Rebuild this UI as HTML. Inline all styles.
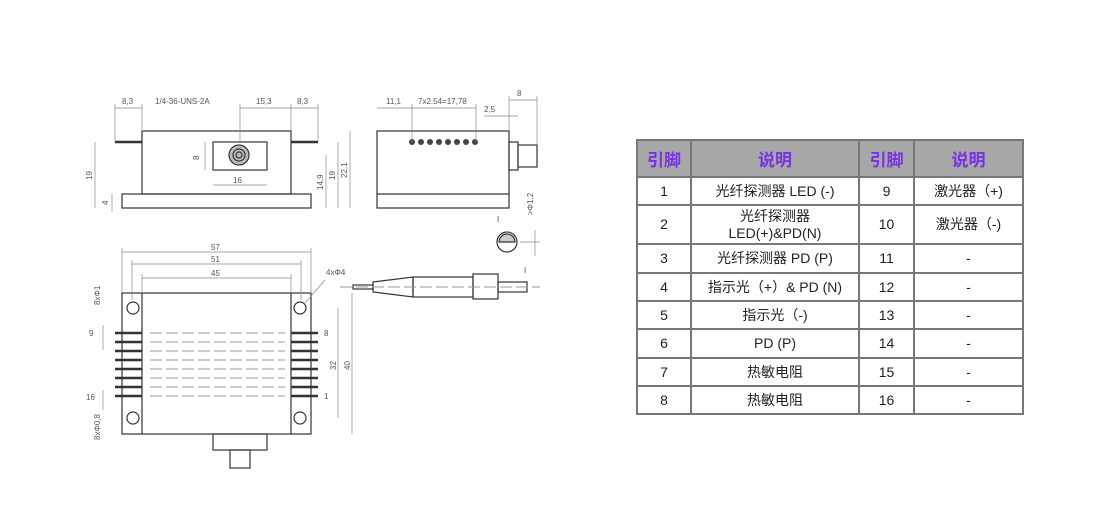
<!DOCTYPE html>
<html><head><meta charset="utf-8"><style>
body{margin:0;width:1112px;height:521px;background:#fff;position:relative;overflow:hidden;font-family:"Liberation Sans","Noto Sans CJK SC",sans-serif}
table{position:absolute;left:636px;top:139px;border-collapse:collapse;width:388px;font-size:14px;color:#222}
td{border:2px solid #777;text-align:center;padding:0;line-height:17px}
th{border:2px solid #777;background:#a7a7a7;color:#7a30e6;font-size:17px;font-weight:bold;height:33px}
svg{position:absolute;left:0;top:0}
</style></head><body>
<svg width="630" height="521" viewBox="0 0 630 521" font-family="Liberation Sans, sans-serif" font-size="8" fill="#555">
<g stroke="#333" stroke-width="1.2" fill="none">
<!-- front view -->
<rect x="142" y="131" width="149" height="63"/>
<rect x="122" y="194" width="189" height="14"/>
<rect x="213" y="142" width="54" height="28"/>
<circle cx="239" cy="155" r="10" fill="#bbb"/><circle cx="239" cy="155" r="6"/><circle cx="239" cy="155" r="3"/>
<line x1="115" y1="142" x2="142" y2="142" stroke-width="2.5"/>
<line x1="291" y1="142" x2="318" y2="142" stroke-width="2.5"/>
<!-- side view -->
<rect x="377" y="131" width="132" height="77"/>
<line x1="377" y1="194" x2="509" y2="194"/>
<rect x="509" y="142" width="9" height="28"/>
<rect x="518" y="145" width="19" height="22"/>
<!-- top view -->
<rect x="122" y="293" width="189" height="141"/>
<line x1="142" y1="293" x2="142" y2="434"/><line x1="291" y1="293" x2="291" y2="434"/>
<circle cx="133" cy="308" r="6"/><circle cx="300" cy="308" r="6"/><circle cx="133" cy="418" r="6"/><circle cx="300" cy="418" r="6"/>
<rect x="213" y="434" width="54" height="16"/>
<rect x="230" y="450" width="20" height="18"/>
<!-- fiber -->
<rect x="353" y="285" width="20" height="4"/>
<path d="M373 282 L413 277 L413 297 L373 292 Z"/>
<rect x="413" y="277" width="60" height="20"/>
<rect x="473" y="274" width="25" height="25"/>
<rect x="498" y="282" width="29" height="10"/>
<circle cx="507" cy="242" r="10"/>
<path d="M499 242 A8 8 0 0 1 515 242 Z" fill="#ccc"/>
</g>
<g fill="#444">
<circle cx="412" cy="142" r="3"/><circle cx="421" cy="142" r="3"/><circle cx="430" cy="142" r="3"/><circle cx="439" cy="142" r="3"/><circle cx="448" cy="142" r="3"/><circle cx="457" cy="142" r="3"/><circle cx="466" cy="142" r="3"/><circle cx="475" cy="142" r="3"/>
</g>
<g stroke="#333" stroke-width="2.5">
<line x1="115" y1="333" x2="142" y2="333"/><line x1="115" y1="342" x2="142" y2="342"/><line x1="115" y1="351" x2="142" y2="351"/><line x1="115" y1="360" x2="142" y2="360"/><line x1="115" y1="369" x2="142" y2="369"/><line x1="115" y1="378" x2="142" y2="378"/><line x1="115" y1="387" x2="142" y2="387"/><line x1="115" y1="396" x2="142" y2="396"/>
<line x1="291" y1="333" x2="318" y2="333"/><line x1="291" y1="342" x2="318" y2="342"/><line x1="291" y1="351" x2="318" y2="351"/><line x1="291" y1="360" x2="318" y2="360"/><line x1="291" y1="369" x2="318" y2="369"/><line x1="291" y1="378" x2="318" y2="378"/><line x1="291" y1="387" x2="318" y2="387"/><line x1="291" y1="396" x2="318" y2="396"/>
</g>
<g stroke="#999" stroke-width="1" stroke-dasharray="12 4">
<line x1="150" y1="333" x2="285" y2="333"/><line x1="150" y1="342" x2="285" y2="342"/><line x1="150" y1="351" x2="285" y2="351"/><line x1="150" y1="360" x2="285" y2="360"/><line x1="150" y1="369" x2="285" y2="369"/><line x1="150" y1="378" x2="285" y2="378"/><line x1="150" y1="387" x2="285" y2="387"/><line x1="150" y1="396" x2="285" y2="396"/>
<line x1="340" y1="287" x2="540" y2="287"/>
</g>
<g stroke="#888" stroke-width="0.7">
<!-- dimension lines -->
<line x1="115" y1="108" x2="142" y2="108"/><line x1="115" y1="104" x2="115" y2="142"/><line x1="142" y1="104" x2="142" y2="131"/>
<line x1="240" y1="108" x2="318" y2="108"/><line x1="240" y1="104" x2="240" y2="142"/><line x1="291" y1="104" x2="291" y2="131"/><line x1="318" y1="104" x2="318" y2="142"/>
<line x1="95" y1="142" x2="95" y2="208"/><line x1="112" y1="194" x2="112" y2="212"/>
<line x1="326" y1="155" x2="326" y2="208"/><line x1="338" y1="142" x2="338" y2="208"/><line x1="350" y1="131" x2="350" y2="208"/>
<line x1="213" y1="185" x2="267" y2="185"/><line x1="205" y1="142" x2="205" y2="170"/>
<line x1="377" y1="108" x2="412" y2="108"/><line x1="412" y1="108" x2="476" y2="108"/><line x1="412" y1="104" x2="412" y2="142"/><line x1="476" y1="104" x2="476" y2="142"/>
<line x1="509" y1="100" x2="537" y2="100"/><line x1="484" y1="116" x2="518" y2="116"/><line x1="509" y1="96" x2="509" y2="131"/><line x1="537" y1="96" x2="537" y2="145"/>
<line x1="122" y1="252" x2="311" y2="252"/><line x1="132" y1="264" x2="301" y2="264"/><line x1="142" y1="278" x2="291" y2="278"/>
<line x1="122" y1="248" x2="122" y2="293"/><line x1="311" y1="248" x2="311" y2="293"/><line x1="132" y1="260" x2="132" y2="300"/><line x1="301" y1="260" x2="301" y2="300"/><line x1="142" y1="274" x2="142" y2="293"/><line x1="291" y1="274" x2="291" y2="293"/>
<line x1="338" y1="308" x2="338" y2="418"/><line x1="352" y1="293" x2="352" y2="434"/>
<line x1="305" y1="303" x2="325" y2="280"/>
<line x1="535" y1="230" x2="535" y2="256"/><line x1="520" y1="242" x2="540" y2="242"/>
<line x1="103" y1="325" x2="103" y2="350"/><line x1="103" y1="390" x2="103" y2="410"/>
</g>
<g font-size="8" fill="#555">
<text x="122" y="104">8,3</text><text x="155" y="104">1/4-36-UNS-2A</text><text x="256" y="104">15,3</text><text x="297" y="104">8,3</text>
<text x="233" y="183">16</text><text x="199" y="160" transform="rotate(-90 199 160)">8</text>
<text x="92" y="180" transform="rotate(-90 92 180)">19</text><text x="108" y="205" transform="rotate(-90 108 205)">4</text>
<text x="323" y="190" transform="rotate(-90 323 190)">14,9</text><text x="335" y="180" transform="rotate(-90 335 180)">19</text><text x="347" y="178" transform="rotate(-90 347 178)">22,1</text>
<text x="386" y="104">11,1</text><text x="418" y="104">7x2.54=17,78</text><text x="484" y="112">2,5</text><text x="517" y="96">8</text>
<text x="533" y="215" transform="rotate(-90 533 215)">&gt;Φ1,2</text><text x="497" y="222">I</text><text x="524" y="273">I</text>
<text x="211" y="250">57</text><text x="211" y="262">51</text><text x="211" y="276">45</text><text x="326" y="275">4xΦ4</text>
<text x="100" y="305" transform="rotate(-90 100 305)">8xΦ1</text><text x="89" y="336">9</text><text x="86" y="400">16</text>
<text x="100" y="440" transform="rotate(-90 100 440)">8xΦ0,8</text><text x="324" y="336">8</text><text x="324" y="399">1</text>
<text x="336" y="370" transform="rotate(-90 336 370)">32</text><text x="350" y="370" transform="rotate(-90 350 370)">40</text>
</g>
</svg>
<table>
<tr><th style="width:50px">引脚</th><th style="width:164px">说明</th><th style="width:51px">引脚</th><th>说明</th></tr>
<tr style="height:28px"><td>1</td><td>光纤探测器 LED (-)</td><td>9</td><td>激光器（+)</td></tr>
<tr style="height:39px"><td>2</td><td>光纤探测器<br>LED(+)&amp;PD(N)</td><td>10</td><td>激光器（-)</td></tr>
<tr style="height:29px"><td>3</td><td>光纤探测器 PD (P)</td><td>11</td><td>-</td></tr>
<tr style="height:28px"><td>4</td><td>指示光（+）&amp; PD (N)</td><td>12</td><td>-</td></tr>
<tr style="height:28px"><td>5</td><td>指示光（-)</td><td>13</td><td>-</td></tr>
<tr style="height:29px"><td>6</td><td>PD (P)</td><td>14</td><td>-</td></tr>
<tr style="height:28px"><td>7</td><td>热敏电阻</td><td>15</td><td>-</td></tr>
<tr style="height:28px"><td>8</td><td>热敏电阻</td><td>16</td><td>-</td></tr>
</table>
</body></html>
